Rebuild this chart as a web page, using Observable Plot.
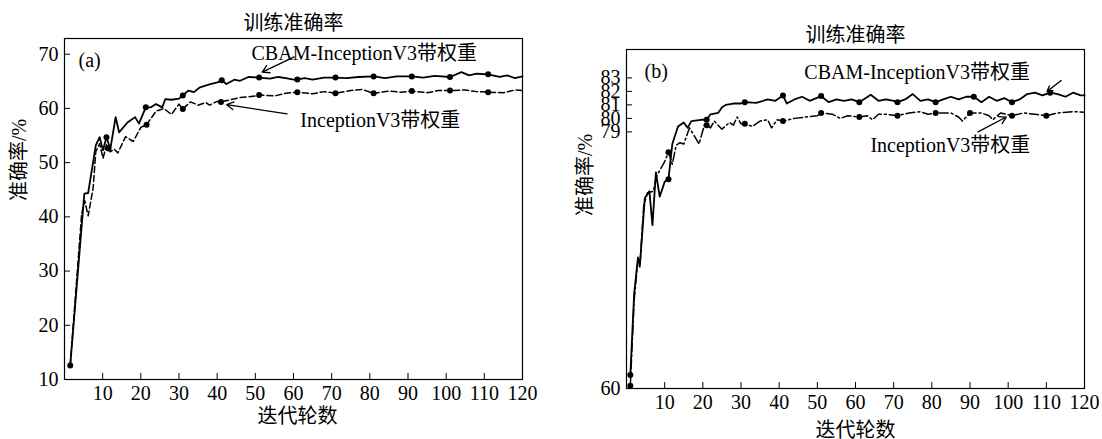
<!DOCTYPE html>
<html><head><meta charset="utf-8">
<script src="https://cdn.jsdelivr.net/npm/d3@7"></script>
<script src="https://cdn.jsdelivr.net/npm/@observablehq/plot@0.6"></script>
<style>
body{margin:0;background:#fff}
#wrap{display:flex;width:1102px;height:439px;background:#fff}
</style>
</head><body><div id="wrap"></div>
<script>
// ---------- Panel (a) ----------
const aCbamEpoch = [1.5,5.2,6.2,8.2,9.2,10.1,11,12,13.4,14.3,16.5,18.5,19.5,21.3,22.6,24,25.6,26.4,28,30,31,32.5,33.9,35.5,38.2,40.1,41.2,42.4,44.5,46,48.2,51,53.8,56,58,60,61,63,65,68,71,74,77,81,84,87,91,94,97,101,104,106,108,111,114,116,118,120];
const aCbamAcc   = [12.6,44.3,44.4,53.2,54.7,52.3,54.7,52.5,58.4,55.6,57.4,58.4,57.2,60.2,60.2,60.8,60.2,61.7,61.6,61.8,62.4,63.3,63.0,63.9,64.5,64.8,65.2,64.5,65.3,65.1,65.8,65.7,65.5,65.8,65.6,65.3,65.35,65.6,65.3,65.7,65.7,65.6,65.8,65.9,65.6,65.9,65.9,65.7,66.0,65.8,66.7,66.1,66.4,66.3,65.8,66.1,65.6,65.9];
const aIncEpoch  = [1.5,4.5,5.3,6.2,7.5,8.2,9.2,10.1,11,12,13,14,16,18,20,21.5,24,26,28,30,31,33,35,37,38,40,41,44,46,50,51,55,58,61,65,68,71,75,78,81,85,88,91,95,98,101,105,108,111,115,118,120];
const aIncAcc    = [12.6,40.6,43.0,40.2,45.3,52.0,53.5,50.8,53.3,52.0,52.5,51.8,54.8,53.9,56.5,57.0,59.5,60.0,58.9,60.8,59.9,61.2,60.6,61.1,60.6,61.3,61.2,61.7,62.0,62.3,62.5,62.3,62.8,63.0,62.7,63.1,62.8,63.3,63.5,62.8,63.2,63.0,63.2,62.9,63.3,63.3,63.4,63.1,63.0,62.9,63.4,63.3];
const aCbamMarkEpoch = [1.5,11,21.3,31,41.2,51,61,71,81,91,101,111];
const aCbamMarkAcc   = [12.6,54.7,60.2,62.4,65.2,65.7,65.35,65.7,65.9,65.9,65.8,66.3];
const aIncMarkEpoch  = [11.5,21.5,31,41,51,61,71,81,91,101,111];
const aIncMarkAcc    = [52.6,57.0,59.9,61.2,62.5,63.0,62.8,62.8,63.2,63.3,63.0];
const aYTicks = [10,20,30,40,50,60,70];

// ---------- Panel (b) ----------
const bCbamEpoch = [1,2,3,3.5,4.8,6,6.8,7.7,8.7,10,11,12,13.5,15,16,17,20,21,22,24,25,26,28,30,31,34,37,39,41,42,44,46,48,51,53,55,57,59,61,64,66,68,70,71,73,75,77,79,81,83,85,87,89,91,93,95,97,99,101,103,105,107,109,111,113,115,117,119,120];
const bCbamAcc   = [61.0,67.0,69.7,69.1,74.1,74.6,72.1,76.0,74.2,75.3,75.5,78.1,79.4,79.7,79.3,79.8,79.9,79.9,80.3,80.4,80.8,81.0,81.1,81.1,81.2,81.15,81.4,81.3,81.7,81.1,81.4,81.6,81.3,81.65,81.2,81.4,81.3,81.4,81.2,81.75,81.3,81.4,81.3,81.2,81.4,81.8,81.3,81.4,81.2,81.4,81.6,81.4,81.6,81.6,81.2,81.6,81.3,81.5,81.2,81.4,81.8,81.9,81.7,81.9,81.8,81.6,81.9,81.7,81.7];
const bIncEpoch  = [1,2,3,3.5,4.5,5.5,7,8,9,10,11,12,13,14,15,16.5,18,19,20.5,22,23,25,27,28,29,30,31,33,35,37,38,39.5,41,44,47,50,51,54,56,58,61,63,64.5,66,68,71,74,77,79,81,85,87,88,90,93,95,96,98,101,104,107,110,113,117,120];
const bIncAcc    = [60.2,66.5,69.5,69.0,73.5,74.5,74.6,75.8,76.3,76.8,77.5,76.6,78.0,78.2,78.1,79.3,78.6,78.1,79.6,79.3,79.8,79.2,79.7,79.5,80.1,79.6,79.6,79.4,79.8,79.9,79.3,79.9,79.8,80.0,80.1,80.2,80.4,80.3,80.0,80.2,80.1,80.2,79.9,80.3,80.3,80.2,80.4,80.5,80.3,80.4,80.4,80.1,79.8,80.4,80.4,80.2,79.9,80.4,80.2,80.4,80.3,80.2,80.4,80.5,80.45];
const bCbamMarkEpoch = [1,11,21,31,41,51,61,71,81,91,101,111];
const bCbamMarkAcc   = [61.0,75.5,79.9,81.2,81.7,81.65,81.2,81.2,81.2,81.6,81.2,81.9];
const bIncMarkEpoch  = [1,11,21,31,41,51,61,71,81,90,101,110];
const bIncMarkAcc    = [60.2,77.5,79.5,79.6,79.8,80.4,80.1,80.2,80.4,80.4,80.2,80.2];
const bYTicks = [60,79,80,81,82,83];

const xTicks = [10,20,30,40,50,60,70,80,90,100,110,120];
const titleText = "训练准确率";
const xLabelText = "迭代轮数";
const yLabelText = "准确率/%";
const seriesNames = ["CBAM-InceptionV3带权重", "InceptionV3带权重"];

// annotation anchors (data units)
const aNotes = [{x: 49, y: 70.1, t: seriesNames[0]}, {x: 61.8, y: 57.8, t: seriesNames[1]}];
const aArrows = [{x1: 60.2, y1: 69.5, x2: 51.8, y2: 66.7}, {x1: 58.3, y1: 59.0, x2: 42.5, y2: 60.7}];
const bNotes = [{x: 46.6, y: 83.4, t: seriesNames[0]}, {x: 63.9, y: 78.0, t: seriesNames[1]}];
const bArrows = [{x1: 113.9, y1: 82.8, x2: 110.2, y2: 82.0}, {x1: 92.1, y1: 79.0, x2: 99.5, y2: 80.1}];

const FONT = "'Liberation Serif','Times New Roman','Noto Sans CJK SC',serif";
const zip = (xs, ys) => xs.map((x, i) => ({x, y: ys[i]}));

function panel(o) {
  return Plot.plot({
    width: 551, height: 439,
    marginLeft: o.m[0], marginRight: o.m[1], marginTop: o.m[2], marginBottom: o.m[3],
    x: {domain: [0, 120]},
    y: {domain: o.yDomain},
    style: {fontFamily: FONT, fontSize: "20px", color: "black", background: "white", overflow: "visible"},
    marks: [
      Plot.frame({stroke: "black", strokeWidth: 1.2}),
      Plot.axisX(xTicks, {tickSize: -6, tickPadding: 12, label: null, fontSize: 20}),
      Plot.axisY(o.yTicks, {tickSize: -6, tickPadding: 12, label: null, fontSize: 20}),
      Plot.line(zip(o.incX, o.incY), {x: "x", y: "y", stroke: "black", strokeWidth: 1.5, strokeDasharray: o.dash}),
      Plot.line(zip(o.cbX, o.cbY), {x: "x", y: "y", stroke: "black", strokeWidth: 1.8}),
      Plot.dot(zip(o.mcX, o.mcY), {x: "x", y: "y", r: 3, fill: "black"}),
      Plot.dot(zip(o.miX, o.miY), {x: "x", y: "y", r: 3, fill: "black"}),
      Plot.arrow(o.arrows, {x1: "x1", y1: "y1", x2: "x2", y2: "y2", stroke: "black", strokeWidth: 1.3, headLength: 9}),
      Plot.text(o.notes, {x: "x", y: "y", text: "t", textAnchor: "start", fontSize: 20, fontFamily: FONT}),
      Plot.text([o.tag], {frameAnchor: "top-left", dx: o.tagPos[0], dy: o.tagPos[1], textAnchor: "start", lineAnchor: "middle", fontSize: 20}),
      Plot.text([titleText], {frameAnchor: "top", dx: o.titlePos[0], dy: o.titlePos[1], lineAnchor: "middle", fontSize: 20}),
      Plot.text([xLabelText], {frameAnchor: "bottom", dx: o.xlPos[0], dy: o.xlPos[1], lineAnchor: "middle", fontSize: 20}),
      Plot.text([yLabelText], {frameAnchor: "left", dx: o.ylPos[0], dy: o.ylPos[1], rotate: -90, lineAnchor: "middle", fontSize: 20})
    ]
  });
}

const wrap = document.getElementById("wrap");
wrap.append(panel({
  m: [64, 29, 38, 60], yDomain: [10, 72.9], yTicks: aYTicks,
  cbX: aCbamEpoch, cbY: aCbamAcc, incX: aIncEpoch, incY: aIncAcc,
  mcX: aCbamMarkEpoch, mcY: aCbamMarkAcc, miX: aIncMarkEpoch, miY: aIncMarkAcc,
  dash: "6,3", arrows: aArrows, notes: aNotes, tag: "(a)",
  tagPos: [14, 22], titlePos: [0, -15], xlPos: [4, 37], ylPos: [-45, -8]
}));
wrap.append(panel({
  m: [75, 18, 49, 51], yDomain: [60, 85.1], yTicks: bYTicks,
  cbX: bCbamEpoch, cbY: bCbamAcc, incX: bIncEpoch, incY: bIncAcc,
  mcX: bCbamMarkEpoch, mcY: bCbamMarkAcc, miX: bIncMarkEpoch, miY: bIncMarkAcc,
  dash: "9,3,2,3", arrows: bArrows, notes: bNotes, tag: "(b)",
  tagPos: [18, 22], titlePos: [0, -14], xlPos: [0, 42], ylPos: [-41, -3]
}));
</script>
</body></html>
